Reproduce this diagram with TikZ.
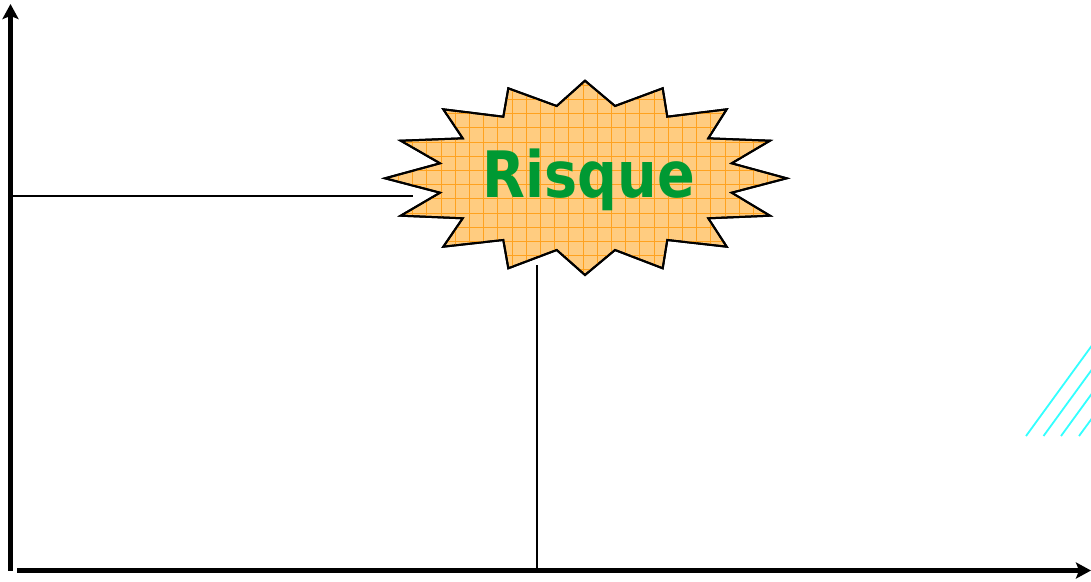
\documentclass[tikz,border=0pt]{standalone}
\usepackage{fontspec}
\newfontfamily\burstfont{DejaVu Sans}
\usetikzlibrary{arrows.meta}
\definecolor{burstfill}{HTML}{FFCC80}
\definecolor{gridorange}{HTML}{FFA21F}
\definecolor{risquegreen}{HTML}{009933}
\definecolor{hatchcyan}{HTML}{33FFFF}
\tikzset{
  axis/.style={line width=5pt, -{Stealth[length=15pt,width=16pt,inset=3pt]}},
  guide/.style={line width=2pt},
  hatch/.style={hatchcyan, line width=1.8pt},
  burst/.style={draw=black, line width=2pt, line join=miter, fill=burstfill},
}
\begin{document}
\begin{tikzpicture}[x=1pt,y=-1pt]
\useasboundingbox (0,0) rectangle (1091,581);
% coordinates
\coordinate (origin) at (10.5,570.5);
\coordinate (ytop) at (10.5,4);
\coordinate (xstart) at (17,570.5);
\coordinate (xend) at (1091,570.5);
\coordinate (hl0) at (12,196);
\coordinate (hl1) at (413,196);
\coordinate (vl0) at (536.5,265);
\coordinate (vl1) at (536.5,568);
% cyan hatch
\draw[hatch] (1026,436) -- (1101,333);
\draw[hatch] (1043.5,436) -- (1101,357);
\draw[hatch] (1061,436) -- (1101,381);
\draw[hatch] (1079,436) -- (1101,406);
% guide lines
\draw[guide] (hl0) -- (hl1);
\draw[guide] (vl0) -- (vl1);
% burst
\path[burst] (585,80.7) -- (615,106) -- (662.7,88.3) -- (667.3,116.7) -- (726.7,109.3) -- (708.3,138.3)
 -- (770,140.7) -- (731.7,163.3) -- (786.7,178.3) -- (731.7,192.7) -- (770,215.7) -- (708.3,218.3)
 -- (726.7,246.7) -- (667.3,240) -- (662.7,268.3) -- (615,250) -- (585,275) -- (556.7,250)
 -- (508.3,268.3) -- (503.3,240) -- (443.3,246.7) -- (462.7,218.3) -- (400.7,215.7) -- (440,192.7)
 -- (385,178.3) -- (440,163.3) -- (400.7,140.7) -- (462.7,138.3) -- (443.3,109.3) -- (503.3,116.7)
 -- (508.3,88.3) -- (556.7,106) -- cycle;
\begin{scope}
\clip (585,80.7) -- (615,106) -- (662.7,88.3) -- (667.3,116.7) -- (726.7,109.3) -- (708.3,138.3)
 -- (770,140.7) -- (731.7,163.3) -- (786.7,178.3) -- (731.7,192.7) -- (770,215.7) -- (708.3,218.3)
 -- (726.7,246.7) -- (667.3,240) -- (662.7,268.3) -- (615,250) -- (585,275) -- (556.7,250)
 -- (508.3,268.3) -- (503.3,240) -- (443.3,246.7) -- (462.7,218.3) -- (400.7,215.7) -- (440,192.7)
 -- (385,178.3) -- (440,163.3) -- (400.7,140.7) -- (462.7,138.3) -- (443.3,109.3) -- (503.3,116.7)
 -- (508.3,88.3) -- (556.7,106) -- cycle;
\foreach \gx in {0,...,30} {\draw[gridorange, line width=0.6pt] (384+\gx*14.2,78) -- (384+\gx*14.2,278);}
\foreach \gy in {0,...,14} {\draw[gridorange, line width=0.6pt] (383,85+\gy*14.2) -- (790,85+\gy*14.2);}
\end{scope}
\draw[black, line width=2pt, line join=miter] (585,80.7) -- (615,106) -- (662.7,88.3) -- (667.3,116.7) -- (726.7,109.3) -- (708.3,138.3)
 -- (770,140.7) -- (731.7,163.3) -- (786.7,178.3) -- (731.7,192.7) -- (770,215.7) -- (708.3,218.3)
 -- (726.7,246.7) -- (667.3,240) -- (662.7,268.3) -- (615,250) -- (585,275) -- (556.7,250)
 -- (508.3,268.3) -- (503.3,240) -- (443.3,246.7) -- (462.7,218.3) -- (400.7,215.7) -- (440,192.7)
 -- (385,178.3) -- (440,163.3) -- (400.7,140.7) -- (462.7,138.3) -- (443.3,109.3) -- (503.3,116.7)
 -- (508.3,88.3) -- (556.7,106) -- cycle;
\node[text=risquegreen, inner sep=0pt] (risque) at (589,180) {\scalebox{0.87}[1]{\burstfont\bfseries\fontsize{64}{64}\selectfont Risque}};
% axes
\draw[axis] (origin) -- (ytop);
\draw[axis] (xstart) -- (xend);
\end{tikzpicture}
\end{document}
